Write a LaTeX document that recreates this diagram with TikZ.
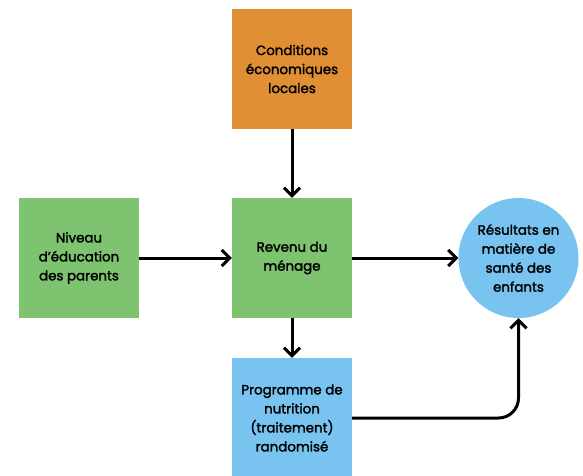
\documentclass[tikz,border=0pt]{standalone}
\usepackage{fontspec}
\setmainfont{Poppins}[FakeBold=2]
\usetikzlibrary{arrows.meta}
\definecolor{orangebox}{HTML}{E08F35}
\definecolor{greenbox}{HTML}{7DC370}
\definecolor{bluebox}{HTML}{79C3F0}
\begin{document}
\begin{tikzpicture}[x=1pt,y=-1pt,
  box/.style={minimum width=120pt,minimum height=120pt,inner sep=0pt,align=center,font=\fontsize{13.4}{19}\selectfont,text=black},
  circ/.style={circle,minimum size=120pt,inner sep=0pt,align=center,font=\fontsize{13.4}{19}\selectfont,fill=bluebox},
  arr/.style={line width=3pt,-{Straight Barb[length=8pt,width=16pt,line width=3pt]}}]
\useasboundingbox (0,0) rectangle (583,475);
\node[box,fill=orangebox] (eco) at (292,69) {Conditions\\économiques\\locales};
\node[box,fill=greenbox] (niv) at (79,258) {Niveau\\d’éducation\\des parents};
\node[box,fill=greenbox] (rev) at (292,258) {Revenu du\\ménage};
\begin{scope}
\clip (0,0) rectangle (583,475);
\node[box,fill=bluebox] (prog) at (292,418) {Programme de\\nutrition\\(traitement)\\randomisé};
\end{scope}
\node[circ] (res) at (518.5,258) {Résultats en\\matière de\\santé des\\enfants};
\draw[arr] (eco) -- (rev);
\draw[arr] (niv) -- (rev);
\draw[arr] (rev) -- (res);
\draw[arr] (rev) -- (prog);
\draw[arr,rounded corners=20pt] (prog.east) -- (prog.east -| res.south) -- (res.south);
\end{tikzpicture}
\end{document}
